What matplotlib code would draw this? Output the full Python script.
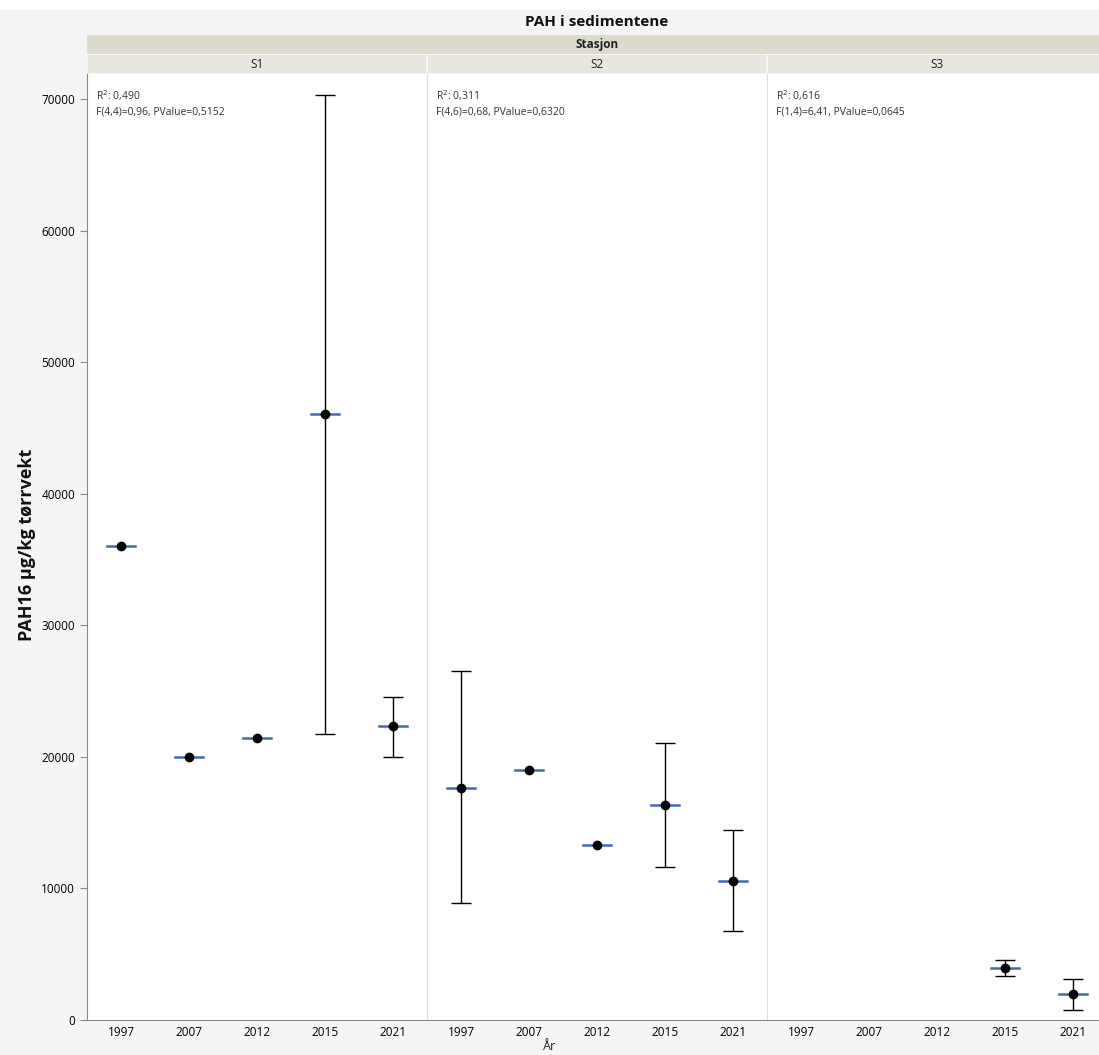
import numpy as np
import matplotlib
matplotlib.use("Agg")
import matplotlib.pyplot as plt
from matplotlib.patches import Rectangle

years = ["1997", "2007", "2012", "2015", "2021"]
stations = ["S1", "S2", "S3"]

# mean, upper, lower per station (None = no data)
s1_mean = [36000, 20000, 21430, 46050, 22340]
s1_hi = [None, None, None, 70290, 24540]
s1_lo = [None, None, None, 21730, 19990]

s2_mean = [17630, 19000, 13300, 16340, 10560]
s2_hi = [26520, None, None, 21050, 14440]
s2_lo = [8890, None, None, 11630, 6760]

s3_mean = [None, None, None, 3950, 1980]
s3_hi = [None, None, None, 4560, 3120]
s3_lo = [None, None, None, 3340, 760]

stats = [
    ("0,490", "F(4,4)=0,96, PValue=0,5152"),
    ("0,311", "F(4,6)=0,68, PValue=0,6320"),
    ("0,616", "F(1,4)=6,41, PValue=0,0645"),
]

W, H = 1099, 1055
fig = plt.figure(figsize=(W / 100, H / 100), dpi=100)
fig.patch.set_facecolor("#f5f5f5")
plt.rcParams["font.family"] = ["Open Sans", "DejaVu Sans"]

def fx(px):
    return px / W

def fy(py):
    return 1 - py / H

# white strip at very top
fig.patches.append(Rectangle((0, fy(10)), 1, 10 / H, transform=fig.transFigure,
                             facecolor="white", edgecolor="none", zorder=0))

left, top, bottom = 87, 74, 1020
pw = 340
fig.text(fx(left + 1.5 * pw), fy(22), "PAH i sedimentene", ha="center", va="center",
         fontsize=11, fontweight="bold", color="#111111")
# Stasjon band
fig.patches.append(Rectangle((fx(left), fy(54)), 1 - fx(left), 19 / H, transform=fig.transFigure,
                             facecolor="#dcdbcc", edgecolor="none"))
fig.text(fx(left + 1.5 * pw), fy(44.5), "Stasjon", ha="center", va="center",
         fontsize=8.5, fontweight="bold", color="#222222")

data = [(s1_mean, s1_hi, s1_lo), (s2_mean, s2_hi, s2_lo), (s3_mean, s3_hi, s3_lo)]
x = np.arange(len(years))

for i, st in enumerate(stations):
    x0 = left + i * pw
    fig.patches.append(Rectangle((fx(x0 + 1), fy(73)), (pw - 2) / W, 18 / H, transform=fig.transFigure,
                                 facecolor="#e8e7dd", edgecolor="none"))
    fig.text(fx(x0 + pw / 2), fy(64), st, ha="center", va="center", fontsize=8.5, color="#222222")

    ax = fig.add_axes([fx(x0), fy(bottom), pw / W, (bottom - top) / H])
    ax.set_facecolor("white")
    ax.set_xlim(-0.5, 4.5)
    ax.set_ylim(0, 71900)
    mean, hi, lo = data[i]
    for j in range(len(years)):
        if mean[j] is None:
            continue
        if hi[j] is not None:
            ax.errorbar(x[j], mean[j], yerr=[[mean[j] - lo[j]], [hi[j] - mean[j]]], fmt="none",
                        ecolor="black", elinewidth=1.0, capsize=7, capthick=1.0, zorder=2)
        ax.plot([x[j] - 0.2, x[j] + 0.2], [mean[j], mean[j]], color="#4466b8", lw=1.8, zorder=3)
        ax.plot(x[j], mean[j], "o", color="black", ms=6, zorder=4)

    ax.set_xticks(x)
    ax.set_xticklabels(years, fontsize=8.5)
    ax.tick_params(axis="x", length=0, pad=4)
    for s in ["top", "right"]:
        ax.spines[s].set_visible(False)
    ax.spines["bottom"].set_color("#888888")
    if i == 0:
        ax.set_yticks(np.arange(0, 70001, 10000))
        ax.set_yticklabels([str(v) for v in range(0, 70001, 10000)], fontsize=8.5)
        ax.tick_params(axis="y", length=5, color="#888888")
        ax.spines["left"].set_color("#888888")
    else:
        ax.set_yticks([])
        ax.spines["left"].set_color("#dddddd")

    r2, ftxt = stats[i]
    ax.text(0.025, 0.985, "R$^2$: " + r2, transform=ax.transAxes, ha="left", va="top",
            fontsize=7.5, color="#333333")
    ax.text(0.025, 0.966, ftxt, transform=ax.transAxes, ha="left", va="top",
            fontsize=7.5, color="#333333")

fig.text(fx(27), fy(545), "PAH16 µg/kg tørrvekt", rotation=90, ha="center", va="center",
         fontsize=13, fontweight="bold", color="#111111")
fig.text(fx(550), fy(1047), "År", ha="center", va="center", fontsize=9, color="#222222")

fig.savefig("out.png", dpi=100, facecolor=fig.get_facecolor())
